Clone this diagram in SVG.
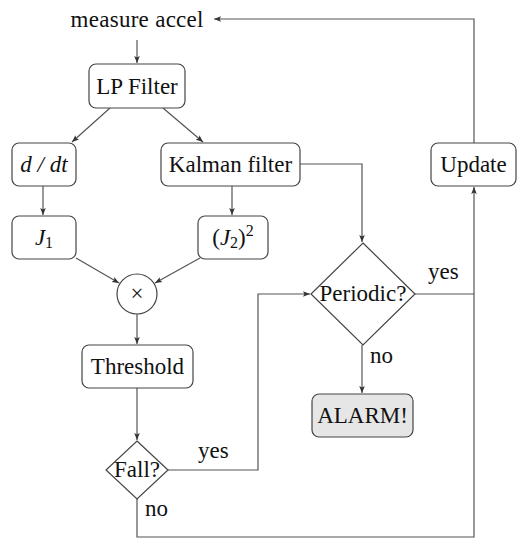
<svg xmlns="http://www.w3.org/2000/svg" width="526" height="550" viewBox="0 0 526 550">
<style>
.box{fill:#fff;stroke:#444;stroke-width:1.2}
.alarm{fill:#e6e6e6;stroke:#444;stroke-width:1.2}
.ln{fill:none;stroke:#555;stroke-width:1.2}
text{font-family:"Liberation Serif","Times New Roman",serif;font-size:23px;fill:#111}
.c{text-anchor:middle}
.i{font-style:italic}
</style>
<defs>
<marker id="ah" viewBox="0 0 10 10" refX="10" refY="5" markerWidth="7" markerHeight="7" orient="auto" markerUnits="userSpaceOnUse">
<path d="M0,1 L10,5 L0,9 L2,5 Z" fill="#333"/>
</marker>
</defs>
<rect width="526" height="550" fill="#fff"/>
<g id="connectors">
<line class="ln" x1="137" y1="40" x2="137" y2="63" marker-end="url(#ah)"/>
<polyline class="ln" points="474,144 474,19 214,19" marker-end="url(#ah)"/>
<line class="ln" x1="110" y1="108" x2="72" y2="142" marker-end="url(#ah)"/>
<line class="ln" x1="163" y1="108" x2="203" y2="142" marker-end="url(#ah)"/>
<line class="ln" x1="43" y1="186" x2="43" y2="215" marker-end="url(#ah)"/>
<line class="ln" x1="232" y1="186" x2="232" y2="215" marker-end="url(#ah)"/>
<line class="ln" x1="76" y1="258" x2="119" y2="283" marker-end="url(#ah)"/>
<line class="ln" x1="200" y1="258" x2="155" y2="283" marker-end="url(#ah)"/>
<line class="ln" x1="137" y1="314" x2="137" y2="344" marker-end="url(#ah)"/>
<line class="ln" x1="137" y1="388" x2="137" y2="440" marker-end="url(#ah)"/>
<polyline class="ln" points="168,470 258,470 258,294 310,294" marker-end="url(#ah)"/>
<polyline class="ln" points="300,164 362,164 362,242" marker-end="url(#ah)"/>
<line class="ln" x1="415" y1="294" x2="474" y2="294"/>
<polyline class="ln" points="137,499 137,537 474,537 474,187" marker-end="url(#ah)"/>
<line class="ln" x1="362" y1="345" x2="362" y2="393" marker-end="url(#ah)"/>
</g>
<g id="measure"><text class="c" x="137" y="27" textLength="133">measure accel</text></g>
<g id="lp"><rect class="box" x="89" y="64" width="96" height="44" rx="7"/><text class="c" x="137" y="94">LP Filter</text></g>
<g id="ddt"><rect class="box" x="12" y="143" width="64" height="43" rx="7"/><text class="c i" x="44" y="172">d / dt</text></g>
<g id="kalman"><rect class="box" x="161" y="143" width="139" height="43" rx="7"/><text class="c" x="230.5" y="172">Kalman filter</text></g>
<g id="j1"><rect class="box" x="12" y="216" width="64" height="43" rx="7"/><text class="c" x="44" y="245"><tspan class="i">J</tspan><tspan font-size="16" dy="3">1</tspan></text></g>
<g id="j2"><rect class="box" x="198" y="216" width="70" height="43" rx="7"/><text class="c" x="233" y="245">(<tspan class="i">J</tspan><tspan font-size="16" dy="3">2</tspan><tspan dy="-3">)</tspan><tspan font-size="16" dy="-9">2</tspan></text></g>
<g id="times"><circle class="box" cx="137" cy="294" r="20"/><text class="c" x="137" y="301" font-size="20">×</text></g>
<g id="threshold"><rect class="box" x="82" y="345" width="111" height="43" rx="7"/><text class="c" x="137.5" y="374">Threshold</text></g>
<g id="fall"><polygon class="box" points="137,441 168,470 137,499 106,470"/><text class="c" x="137" y="477">Fall?</text></g>
<g id="periodic"><polygon class="box" points="363,243 415,294 363,345 311,294"/><text class="c" x="363" y="301">Periodic?</text></g>
<g id="alarm"><rect class="alarm" x="312" y="394" width="101" height="43" rx="7"/><text class="c" x="362.5" y="423">ALARM!</text></g>
<g id="update"><rect class="box" x="431" y="143" width="85" height="43" rx="7"/><text class="c" x="473.5" y="172">Update</text></g>
<g id="labels">
<text x="198" y="458">yes</text>
<text x="145" y="516">no</text>
<text x="428" y="279">yes</text>
<text x="370" y="363">no</text>
</g>
</svg>
